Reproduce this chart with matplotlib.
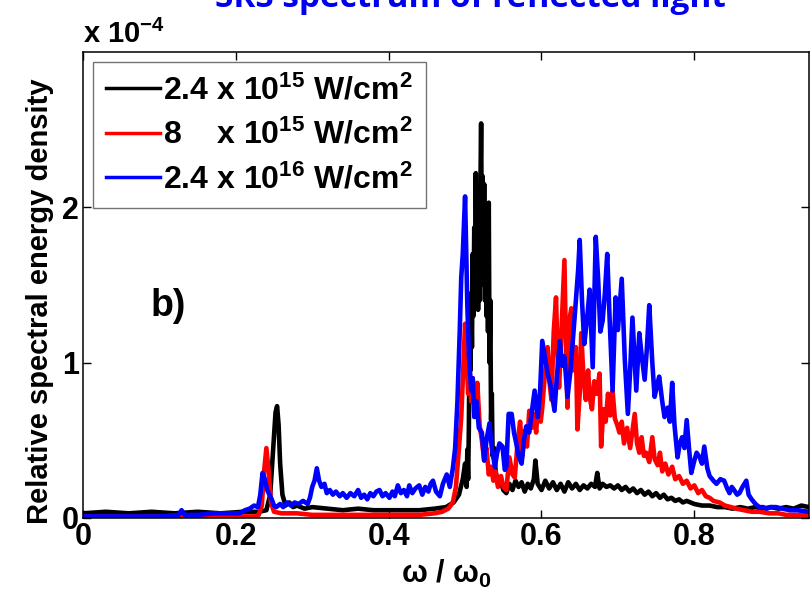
import numpy as np
import matplotlib
matplotlib.use("Agg")
import matplotlib.pyplot as plt

plt.rcParams['font.family'] = ['Liberation Sans', 'DejaVu Sans']
plt.rcParams['font.weight'] = 'bold'
plt.rcParams['mathtext.fontset'] = 'custom'
plt.rcParams['mathtext.rm'] = 'Liberation Sans:bold'
plt.rcParams['mathtext.bf'] = 'Liberation Sans:bold'
plt.rcParams['mathtext.it'] = 'Liberation Sans:bold'
plt.rcParams['mathtext.default'] = 'rm'

# spectra in units of 1e-4, x in omega / omega_0
black_x = [0.00, 0.03, 0.06, 0.09, 0.12, 0.15, 0.18, 0.21, 0.23, 0.240, 0.245, 0.249, 0.252, 0.254,
           0.256, 0.258, 0.261, 0.265, 0.270, 0.275, 0.28, 0.29, 0.30, 0.32, 0.34, 0.36, 0.38, 0.40,
           0.42, 0.44, 0.46, 0.475, 0.485, 0.492, 0.497, 0.500, 0.502, 0.503, 0.504, 0.505, 0.506,
           0.507, 0.508, 0.509, 0.510, 0.511, 0.512, 0.513, 0.514, 0.515, 0.516, 0.517, 0.518, 0.519,
           0.520, 0.521, 0.522, 0.523, 0.524, 0.525, 0.526, 0.527, 0.528, 0.529, 0.530, 0.531, 0.532,
           0.533, 0.534, 0.535, 0.536, 0.538, 0.540, 0.543, 0.546, 0.550, 0.554, 0.558, 0.562, 0.566,
           0.570, 0.574, 0.578, 0.582, 0.586, 0.590, 0.592, 0.595, 0.600, 0.605, 0.610, 0.615, 0.620,
           0.625, 0.630, 0.635, 0.640, 0.645, 0.650, 0.655, 0.660, 0.665, 0.670, 0.673, 0.676, 0.680,
           0.685, 0.690, 0.695, 0.700, 0.705, 0.710, 0.715, 0.720, 0.725, 0.730, 0.735, 0.740, 0.745,
           0.750, 0.755, 0.760, 0.765, 0.770, 0.775, 0.780, 0.785, 0.790, 0.80, 0.81, 0.82, 0.83,
           0.84, 0.85, 0.86, 0.87, 0.88, 0.89, 0.90, 0.91, 0.92, 0.93, 0.94, 0.95]
black_y = [0.03, 0.04, 0.03, 0.04, 0.03, 0.04, 0.03, 0.04, 0.04, 0.05, 0.15, 0.45, 0.68, 0.72,
           0.60, 0.35, 0.15, 0.08, 0.10, 0.07, 0.08, 0.06, 0.07, 0.06, 0.05, 0.06, 0.05, 0.05,
           0.05, 0.05, 0.06, 0.07, 0.10, 0.15, 0.25, 0.35, 0.20, 0.44, 0.25, 0.60, 1.30,
           0.95, 1.45, 1.10, 1.70, 1.30, 1.87, 1.40, 2.22, 1.60, 2.00, 1.34, 1.80, 1.40,
           2.10, 2.54, 1.70, 2.20, 1.50, 2.15, 1.40, 1.95, 1.30, 1.80, 1.20, 2.03, 1.00,
           1.40, 0.63, 0.80, 0.40, 0.45, 0.30, 0.22, 0.25, 0.18, 0.16, 0.22, 0.18, 0.24,
           0.20, 0.23, 0.17, 0.22, 0.19, 0.25, 0.37, 0.22, 0.18, 0.24, 0.19, 0.23, 0.18,
           0.22, 0.17, 0.23, 0.19, 0.22, 0.18, 0.21, 0.19, 0.22, 0.20, 0.29, 0.19, 0.22,
           0.20, 0.21, 0.19, 0.21, 0.18, 0.20, 0.17, 0.19, 0.16, 0.18, 0.15, 0.17, 0.14,
           0.16, 0.13, 0.15, 0.12, 0.13, 0.11, 0.12, 0.10, 0.11, 0.09, 0.08, 0.08, 0.07,
           0.07, 0.06, 0.07, 0.06, 0.07, 0.06, 0.07, 0.06, 0.07, 0.06, 0.08, 0.07]

red_x = [0.00, 0.10, 0.20, 0.225, 0.230, 0.234, 0.237, 0.240, 0.243, 0.246, 0.250, 0.26, 0.28,
         0.30, 0.35, 0.40, 0.44, 0.46, 0.470, 0.478, 0.484, 0.488, 0.492, 0.495, 0.498, 0.500,
         0.502, 0.504, 0.506, 0.508, 0.510, 0.513, 0.516, 0.519, 0.522, 0.525, 0.528, 0.531,
         0.534, 0.537, 0.540, 0.543, 0.547, 0.550, 0.554, 0.558, 0.562, 0.565, 0.569, 0.572,
         0.575, 0.578, 0.581, 0.584, 0.587, 0.590, 0.593, 0.596, 0.599, 0.601, 0.604, 0.608,
         0.611, 0.613, 0.616, 0.619, 0.621, 0.623, 0.627, 0.630, 0.632, 0.634, 0.637, 0.639,
         0.642, 0.645, 0.647, 0.650, 0.652, 0.655, 0.658, 0.661, 0.663, 0.666, 0.669, 0.672,
         0.676, 0.678, 0.681, 0.684, 0.687, 0.690, 0.693, 0.696, 0.699, 0.702, 0.705, 0.708,
         0.712, 0.716, 0.719, 0.722, 0.725, 0.728, 0.731, 0.734, 0.737, 0.741, 0.745, 0.748,
         0.752, 0.755, 0.758, 0.762, 0.766, 0.771, 0.775, 0.780, 0.785, 0.790, 0.795, 0.800,
         0.805, 0.810, 0.815, 0.820, 0.825, 0.833, 0.840, 0.848, 0.855, 0.865, 0.875, 0.885,
         0.898, 0.91, 0.92, 0.93, 0.95]
red_y = [0.01, 0.01, 0.01, 0.01, 0.02, 0.08, 0.30, 0.45, 0.30, 0.10, 0.04, 0.03, 0.03,
         0.02, 0.02, 0.02, 0.02, 0.03, 0.04, 0.06, 0.10, 0.20, 0.45, 0.65, 1.00, 1.25,
         1.05, 0.80, 0.95, 0.75, 0.90, 0.70, 0.87, 0.60, 0.50, 0.37, 0.45, 0.28,
         0.33, 0.24, 0.30, 0.20, 0.27, 0.20, 0.18, 0.39, 0.28, 0.26, 0.50, 0.62,
         0.40, 0.56, 0.46, 0.69, 0.58, 0.67, 0.55, 0.78, 0.62, 0.71, 0.90, 1.10,
         0.85, 0.76, 1.20, 1.42, 1.05, 0.84, 1.30, 1.66, 1.10, 0.71, 1.29, 1.35,
         0.95, 1.10, 0.57, 0.80, 1.19, 0.90, 0.76, 0.95, 0.78, 0.70, 0.88, 0.80,
         0.93, 0.46, 0.70, 0.62, 0.80, 0.66, 0.82, 0.64, 0.60, 0.55, 0.62, 0.48,
         0.58, 0.45, 0.56, 0.67, 0.48, 0.42, 0.52, 0.40, 0.42, 0.36, 0.52, 0.38,
         0.34, 0.42, 0.30, 0.35, 0.28, 0.33, 0.25, 0.27, 0.22, 0.24, 0.19, 0.21,
         0.16, 0.18, 0.14, 0.13, 0.11, 0.10, 0.08, 0.07, 0.06, 0.05, 0.04, 0.04,
         0.03, 0.03, 0.02, 0.02, 0.02]

blue_x = [0.00, 0.05, 0.10, 0.125, 0.129, 0.133, 0.15, 0.17, 0.19, 0.205, 0.212, 0.218, 0.224,
          0.229, 0.232, 0.235, 0.238, 0.241, 0.244, 0.247, 0.250, 0.253, 0.258, 0.262, 0.267,
          0.272, 0.277, 0.282, 0.288, 0.294, 0.297, 0.300, 0.303, 0.306, 0.309, 0.312, 0.316,
          0.319, 0.323, 0.327, 0.331, 0.336, 0.340, 0.345, 0.350, 0.355, 0.360, 0.364, 0.368,
          0.372, 0.376, 0.380, 0.384, 0.388, 0.392, 0.396, 0.401, 0.405, 0.408, 0.412, 0.416,
          0.420, 0.424, 0.427, 0.431, 0.435, 0.440, 0.444, 0.448, 0.452, 0.455, 0.458, 0.462,
          0.467, 0.471, 0.476, 0.480, 0.484, 0.487, 0.490, 0.493, 0.495, 0.497, 0.499, 0.500,
          0.502, 0.503, 0.505, 0.508, 0.510, 0.512, 0.515, 0.518, 0.522, 0.525, 0.528, 0.532,
          0.535, 0.539, 0.542, 0.545, 0.549, 0.552, 0.554, 0.557, 0.561, 0.564, 0.567, 0.570,
          0.574, 0.577, 0.580, 0.584, 0.587, 0.591, 0.595, 0.598, 0.601, 0.604, 0.608, 0.612,
          0.617, 0.620, 0.624, 0.627, 0.630, 0.634, 0.638, 0.641, 0.645, 0.648, 0.650, 0.653,
          0.656, 0.660, 0.663, 0.667, 0.669, 0.671, 0.674, 0.677, 0.680, 0.683, 0.686, 0.689,
          0.693, 0.697, 0.700, 0.705, 0.709, 0.713, 0.716, 0.719, 0.724, 0.728, 0.731, 0.735,
          0.738, 0.741, 0.745, 0.748, 0.751, 0.754, 0.758, 0.761, 0.765, 0.768, 0.771, 0.774,
          0.778, 0.781, 0.784, 0.787, 0.790, 0.793, 0.796, 0.800, 0.803, 0.807, 0.810, 0.813,
          0.817, 0.820, 0.825, 0.829, 0.834, 0.839, 0.843, 0.846, 0.849, 0.852, 0.856, 0.859,
          0.863, 0.868, 0.871, 0.875, 0.880, 0.885, 0.890, 0.895, 0.900, 0.907, 0.915, 0.925,
          0.935, 0.95]
blue_y = [0.01, 0.01, 0.01, 0.02, 0.05, 0.02, 0.02, 0.03, 0.03, 0.03, 0.05, 0.06, 0.08,
          0.07, 0.15, 0.29, 0.25, 0.18, 0.15, 0.12, 0.08, 0.07, 0.09, 0.07, 0.10,
          0.08, 0.10, 0.09, 0.11, 0.09, 0.13, 0.20, 0.24, 0.32, 0.24, 0.20, 0.22,
          0.16, 0.18, 0.15, 0.17, 0.14, 0.16, 0.13, 0.16, 0.14, 0.18, 0.13, 0.15,
          0.12, 0.16, 0.14, 0.17, 0.18, 0.14, 0.16, 0.13, 0.17, 0.14, 0.21, 0.16,
          0.18, 0.14, 0.21, 0.16, 0.19, 0.21, 0.15, 0.20, 0.17, 0.22, 0.24, 0.17,
          0.14, 0.22, 0.28, 0.20, 0.32, 0.45, 0.75, 1.20, 1.55, 1.70, 1.95, 2.07,
          1.60, 1.36, 1.05, 0.82, 0.90, 0.65, 0.75, 0.58, 0.55, 0.37, 0.50, 0.61,
          0.45, 0.33, 0.42, 0.48, 0.46, 0.31, 0.33, 0.67, 0.67, 0.55, 0.48, 0.40,
          0.35, 0.50, 0.59, 0.55, 0.67, 0.82, 0.65, 0.80, 1.14, 1.05, 0.93, 0.85,
          0.69, 0.90, 1.14, 0.98, 1.04, 0.78, 0.95, 1.14, 1.40, 1.60, 1.79, 1.40,
          1.12, 1.30, 1.47, 0.97, 1.40, 1.81, 1.55, 1.20, 1.27, 1.45, 1.70, 1.30,
          0.82, 1.42, 1.21, 1.54, 1.02, 0.67, 0.95, 1.29, 0.82, 1.19, 1.05, 0.89,
          1.10, 1.37, 1.00, 0.78, 0.85, 0.91, 0.75, 0.65, 0.71, 0.62, 0.87, 0.60,
          0.39, 0.48, 0.52, 0.45, 0.63, 0.45, 0.29, 0.37, 0.42, 0.39, 0.35, 0.46,
          0.32, 0.27, 0.24, 0.22, 0.25, 0.24, 0.19, 0.16, 0.20, 0.18, 0.15, 0.16,
          0.20, 0.24, 0.15, 0.12, 0.09, 0.07, 0.07, 0.06, 0.07, 0.07, 0.06, 0.05,
          0.05, 0.04]

labels = [r'2.4 x 10$^{15}$ W/cm$^{2}$',
          r'8    x 10$^{15}$ W/cm$^{2}$',
          r'2.4 x 10$^{16}$ W/cm$^{2}$']

fig = plt.figure(figsize=(8.11, 5.96), dpi=100)
ax = fig.add_axes([0.1023, 0.1309, 0.8952, 0.7819])

ax.plot(black_x, black_y, color='black', lw=3.3, label=labels[0])
ax.plot(red_x, red_y, color='red', lw=3.3, label=labels[1])
ax.plot(blue_x, blue_y, color='blue', lw=3.3, label=labels[2])

ax.set_xlim(0, 0.95)
ax.set_ylim(0, 3)
ax.set_xticks([0, 0.2, 0.4, 0.6, 0.8])
ax.set_xticklabels(['0', '0.2', '0.4', '0.6', '0.8'])
ax.set_yticks([0, 1, 2])
ax.tick_params(direction='in', top=True, right=True, length=6, width=1,
               labelsize=22, pad=3)
for s in ax.spines.values():
    s.set_linewidth(1.1)

ax.set_ylabel('Relative spectral energy density', fontsize=21, fontweight='bold')
ax.yaxis.set_label_coords(-0.04, 0.466)
ax.set_xlabel(r'ω / ω$_{0}$', fontsize=22, fontweight='bold', labelpad=4)

leg = ax.legend(loc='upper left', bbox_to_anchor=(0.0138, 0.9785), borderaxespad=0,
                fontsize=23, handlelength=1.7, handletextpad=0.1, labelspacing=0.42,
                borderpad=0.4, fancybox=False, framealpha=1)
leg.get_frame().set_edgecolor('0.45')
leg.get_frame().set_linewidth(1.0)
for line in leg.get_lines():
    line.set_linewidth(2.5)

ax.text(0.088, 1.3, 'b)', fontsize=27, fontweight='bold')

fig.text(83 / 811, 1 - 43 / 596, r'x 10$^{-4}$', fontsize=21, fontweight='bold')
fig.text(0.5795, 1 - 7 / 596, 'SRS spectrum of reflected light', color='#0000EE',
         fontsize=24, fontweight='bold', family=['Open Sans', 'DejaVu Sans'],
         ha='center', va='baseline')

fig.savefig('out.png', dpi=100)
